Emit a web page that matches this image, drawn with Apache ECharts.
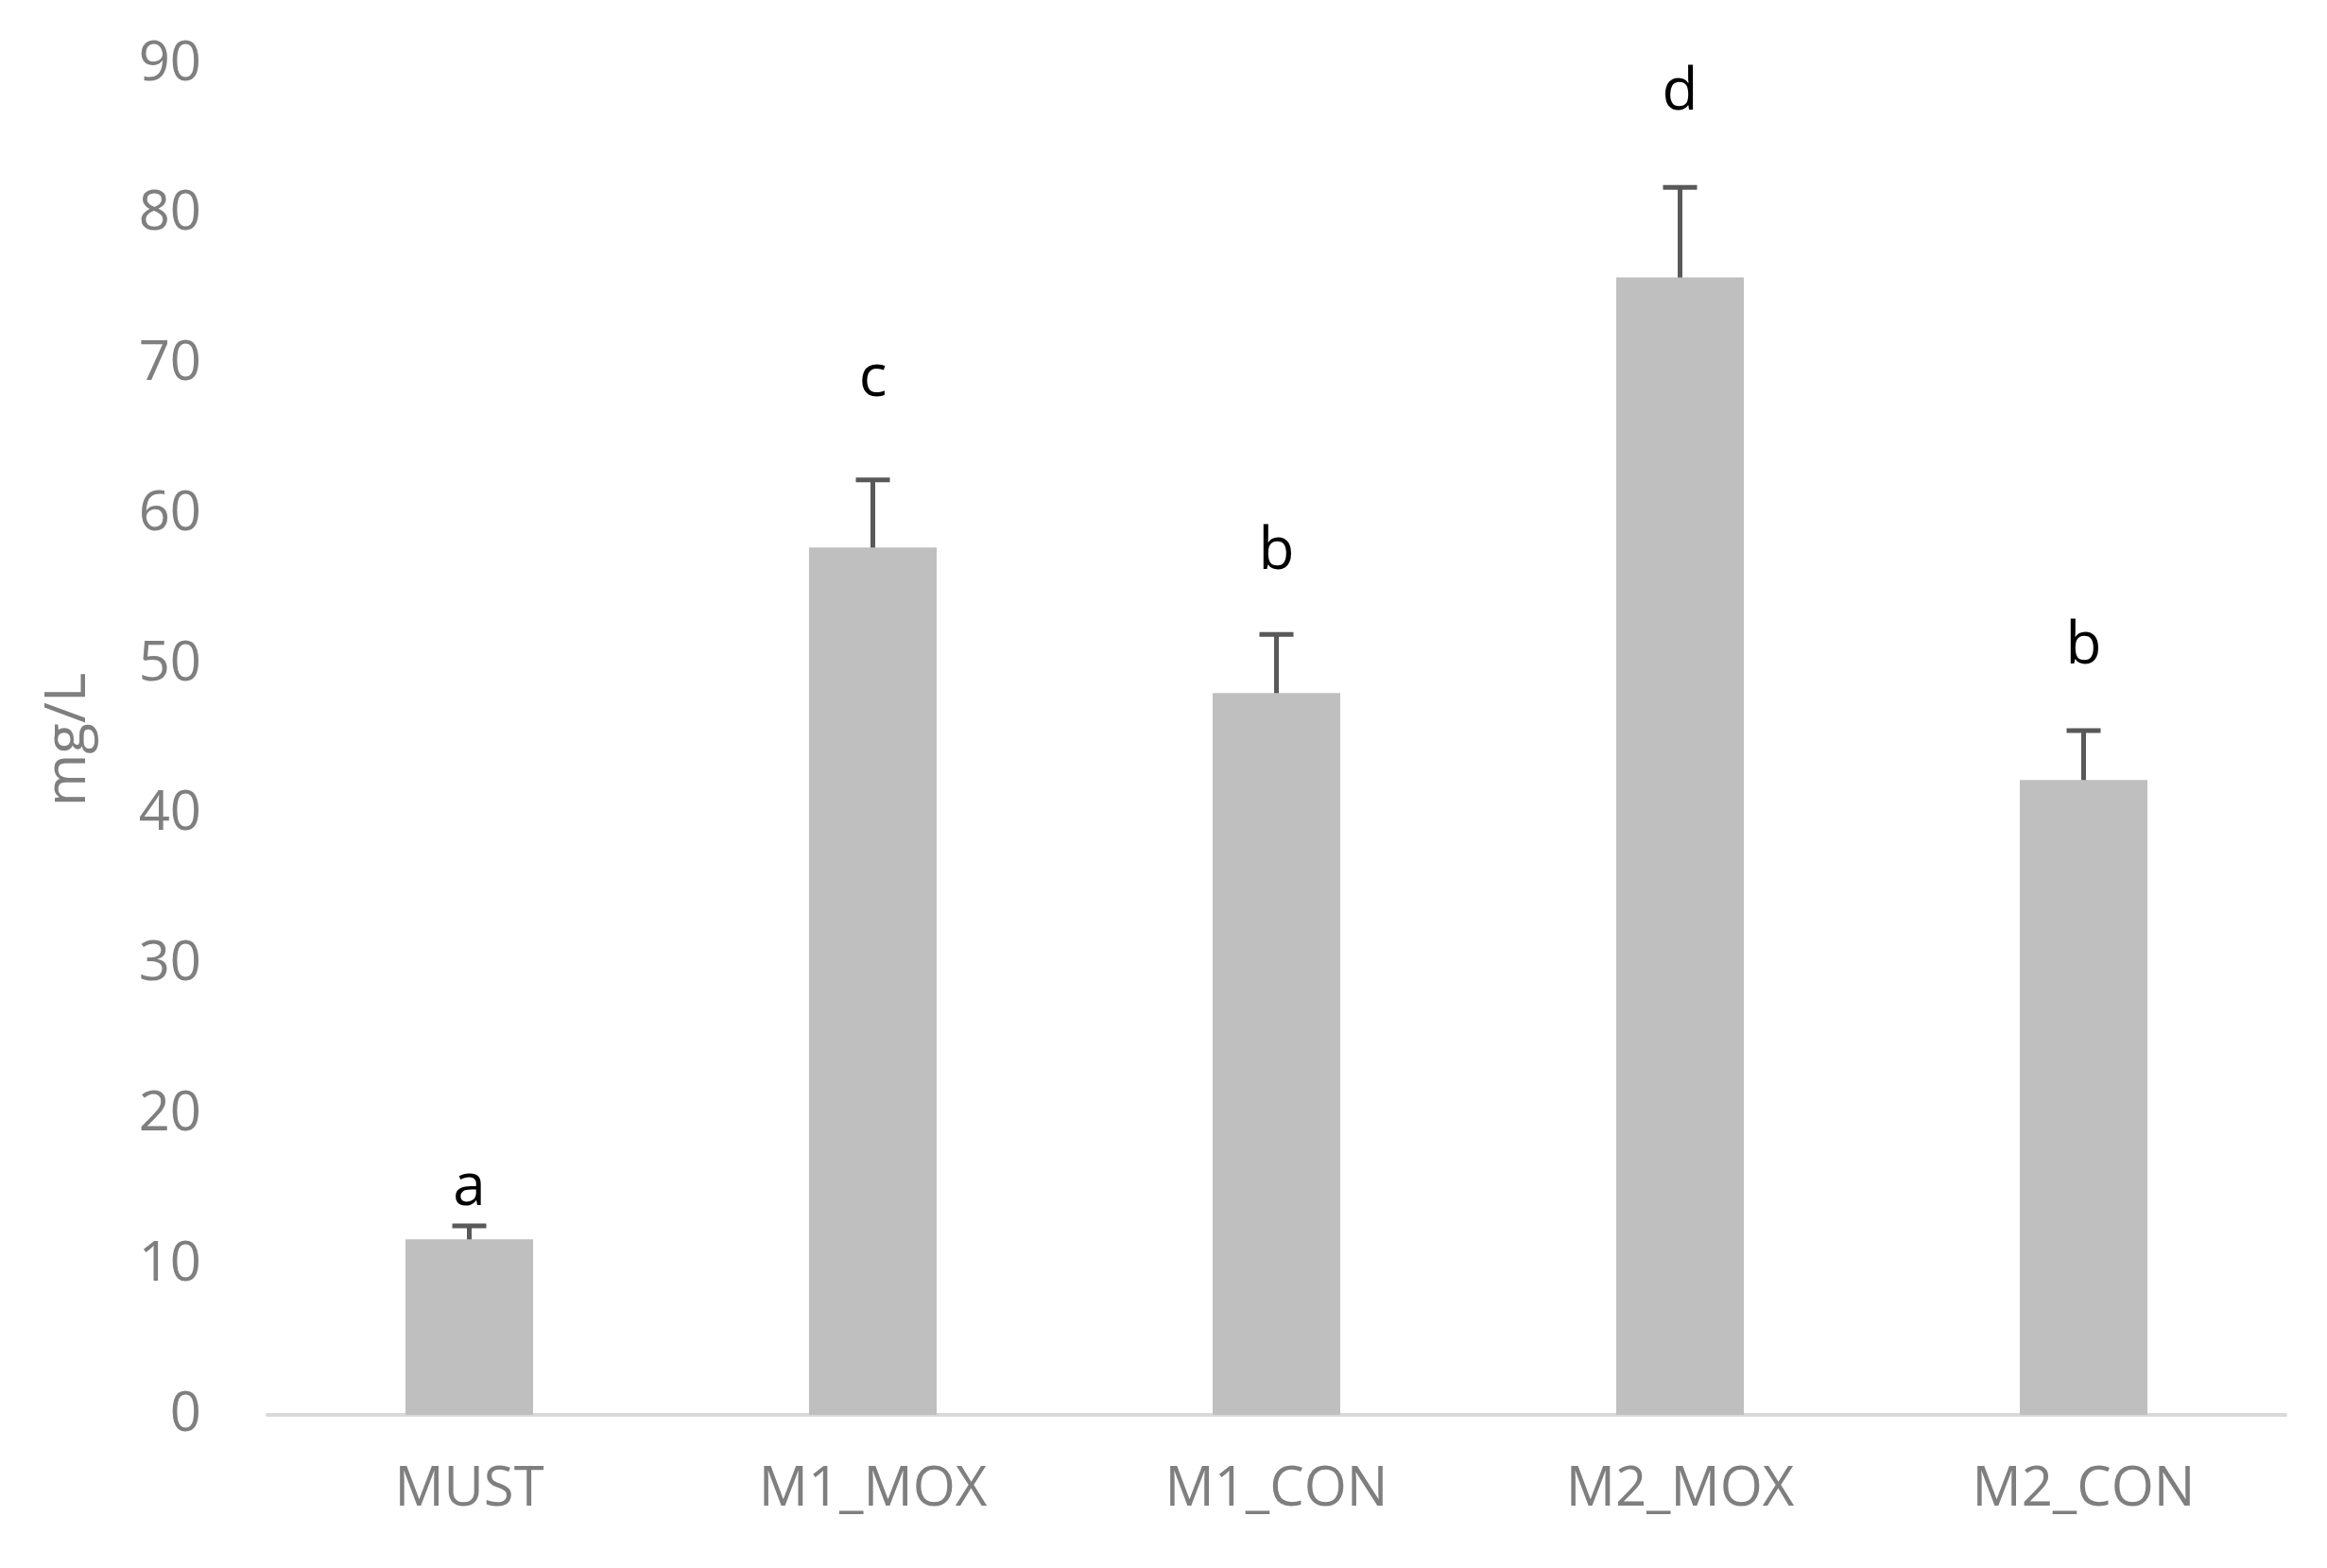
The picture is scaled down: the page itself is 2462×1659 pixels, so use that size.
<!DOCTYPE html>
<html>
<head>
<meta charset="UTF-8">
<script src="https://cdn.jsdelivr.net/npm/echarts@6/dist/echarts.min.js"></script>
<style>html,body{margin:0;background:#fff}</style>
</head>
<body>
<div id="chart" style="width:2462px;height:1659px;"></div>
<script>
var categories = ['MUST', 'M1_MOX', 'M1_CON', 'M2_MOX', 'M2_CON'];
var means = [11.7, 57.8, 48.1, 75.8, 42.3];
var errLow = [10.9, 53.2, 44.2, 69.8, 38.9];
var errHigh = [12.6, 62.3, 52.0, 81.8, 45.6];
var letters = ['a', 'c', 'b', 'd', 'b'];
var letterY = [15.1, 69.0, 57.5, 88.1, 51.2];

var chart = echarts.init(document.getElementById('chart'));
var font = 'Open Sans';
chart.setOption({
  animation: false,
  grid: { left: 283, right: 44, top: 68, bottom: 162 },
  xAxis: {
    type: 'category', data: categories,
    axisLine: { lineStyle: { color: '#d9d9d9', width: 4 } },
    axisTick: { show: false },
    axisLabel: { color: '#7f7f7f', fontSize: 58, fontFamily: font, margin: 50 }
  },
  yAxis: {
    type: 'value', min: 0, max: 90, interval: 10,
    name: 'mg/L', nameLocation: 'middle', nameGap: 180,
    nameTextStyle: { color: '#7f7f7f', fontSize: 60, fontFamily: font },
    splitLine: { show: false },
    axisLine: { show: false }, axisTick: { show: false },
    axisLabel: { color: '#7f7f7f', fontSize: 58, fontFamily: font, margin: 70 }
  },
  series: [{
    type: 'bar', data: means, barWidth: 135,
    itemStyle: { color: '#bfbfbf' }
  }, {
    type: 'custom',
    data: categories.map(function (c, i) { return [i, errLow[i], errHigh[i]]; }),
    renderItem: function (params, api) {
      var lo = api.coord([api.value(0), api.value(1)]);
      var hi = api.coord([api.value(0), api.value(2)]);
      var w = 18, s = { stroke: '#595959', lineWidth: 5 };
      return { type: 'group', children: [
        { type: 'line', shape: { x1: lo[0], y1: lo[1], x2: hi[0], y2: hi[1] }, style: s },
        { type: 'line', shape: { x1: lo[0] - w, y1: lo[1], x2: lo[0] + w, y2: lo[1] }, style: s },
        { type: 'line', shape: { x1: hi[0] - w, y1: hi[1], x2: hi[0] + w, y2: hi[1] }, style: s }
      ]};
    }
  }, {
    type: 'custom',
    data: categories.map(function (c, i) { return [i, letterY[i]]; }),
    renderItem: function (params, api) {
      var p = api.coord([api.value(0), api.value(1)]);
      return { type: 'text', x: p[0], y: p[1], style: {
        text: letters[params.dataIndex], fill: '#000', fontSize: 62, fontFamily: font,
        align: 'center', verticalAlign: 'middle' } };
    }
  }]
});
</script>
</body>
</html>
